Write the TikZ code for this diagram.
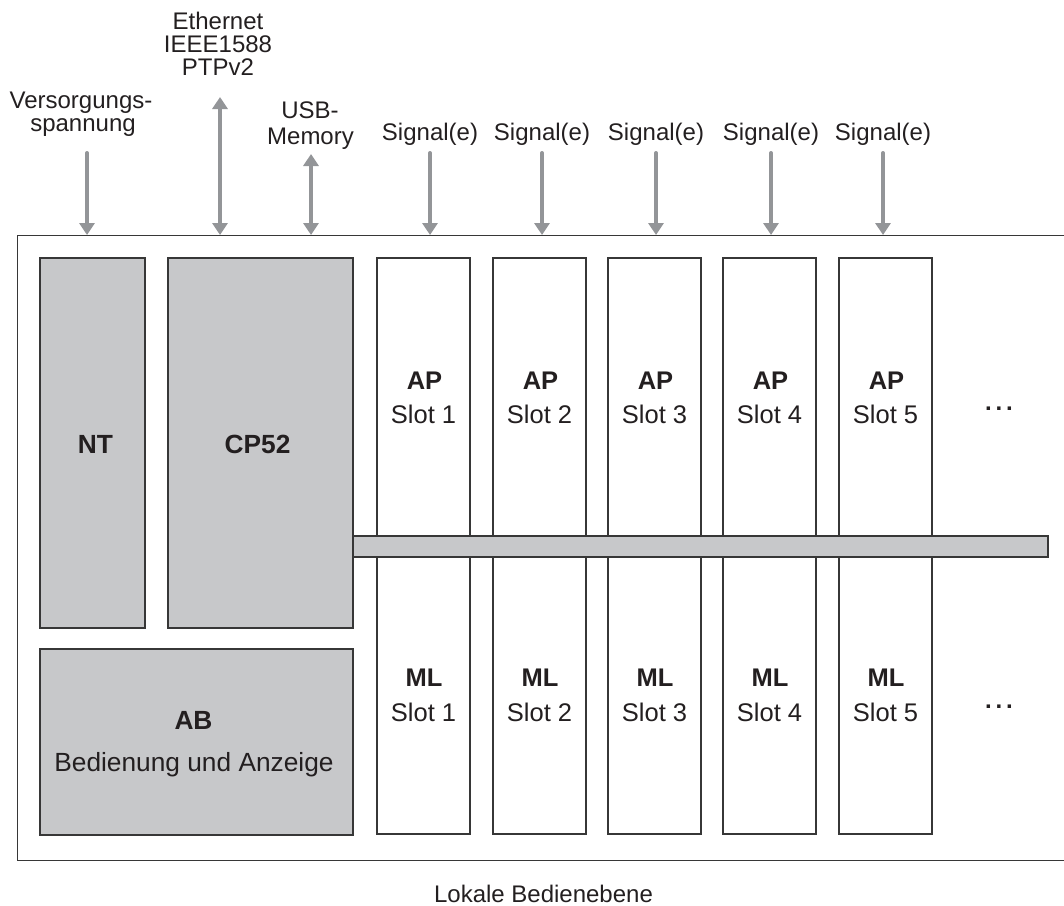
\documentclass[tikz,border=0pt]{standalone}
\usepackage{fontspec}
\setmainfont{Liberation Sans}
\usetikzlibrary{arrows.meta}
\definecolor{boxgray}{RGB}{199,200,202}
\definecolor{arrgray}{RGB}{147,149,152}
\definecolor{linegray}{RGB}{55,55,55}
\definecolor{txt}{RGB}{35,31,32}
\tikzset{
  grayblock/.style={draw=linegray, fill=boxgray, line width=1.1pt, inner sep=0pt, outer sep=0pt, anchor=north west},
  slotbox/.style={draw=linegray, fill=white, line width=1.1pt, inner sep=0pt, outer sep=0pt, anchor=north west, minimum width=93pt},
  framestyle/.style={draw=linegray, line width=1pt},
  lbl/.style={text=txt, inner sep=0pt, align=center, anchor=base, font=\fontsize{24}{28}\selectfont},
  boxlbl/.style={lbl, font=\fontsize{25.5}{30}\selectfont},
  blocklbl/.style={lbl, font=\fontsize{26.3}{30}\selectfont},
  sig/.style={draw=arrgray, line width=4pt, line cap=round, -{Triangle[width=15pt,length=12pt]}},
  bisig/.style={draw=arrgray, line width=4pt, {Triangle[width=15pt,length=12pt]}-{Triangle[width=15pt,length=12pt]}},
}
\begin{document}
\begin{tikzpicture}[x=1pt,y=-1pt]
\useasboundingbox (0,0) rectangle (1064,905);
% frame (right side lies outside the picture)
\draw[framestyle] (1064,235) -- (17,235) -- (17,860) -- (1064,860);
\coordinate (ftop) at (17,235);
% blocks
\node[grayblock, minimum width=105pt, minimum height=370pt] (nt) at (40,258) {};
\node[grayblock, minimum width=185pt, minimum height=370pt] (cp) at (168,258) {};
\node[grayblock, minimum width=313pt, minimum height=186pt] (ab) at (40,649) {};
\node[blocklbl] (ntl) at (95.5,453) {\bfseries NT};
\node[blocklbl] (cpl) at (257.5,453) {\bfseries CP52};
\node[blocklbl] (abl) at (193.5,729.3) {\bfseries AB};
\node[blocklbl] (abl2) at (194,771.7) {Bedienung und Anzeige};
% slots
\foreach \i/\x/\ax in {1/377/430,2/493/542,3/608/656,4/723/771,5/839/883}{
  \node[slotbox, minimum height=278pt] (ap\i) at (\x,258) {};
  \node[slotbox, minimum height=277pt] (ml\i) at (\x,557) {};
  \node[boxlbl] (apt\i) at (\x+47.5,389.3) {\bfseries AP};
  \node[boxlbl] (aps\i) at (\x+46.5,423.3) {Slot \i};
  \node[boxlbl] (mlt\i) at (\x+47,686.7) {\bfseries ML};
  \node[boxlbl] (mls\i) at (\x+46.5,721.7) {Slot \i};
  \node[lbl] (sg\i) at (\ax,140) {Signal(e)};
  \coordinate (sgs\i) at (\ax,153);
  \draw[sig] (sgs\i) -- (sgs\i |- ftop);
}
% bus
\node[grayblock, minimum width=695pt, minimum height=21pt, line width=1.4pt] (bus) at (353,536) {};
% dots
\node[text=txt, inner sep=0pt, font=\fontsize{24}{28}\selectfont\bfseries] (dots1) at (999,409) {.\kern3.8pt.\kern3.8pt.};
\node[text=txt, inner sep=0pt, font=\fontsize{24}{28}\selectfont\bfseries] (dots2) at (999,707) {.\kern3.8pt.\kern3.8pt.};
% top labels
\node[lbl] (vers1) at (81,108) {Versorgungs-};
\node[lbl] (vers2) at (83,131) {spannung};
\node[lbl] (eth1) at (218,29.3) {Ethernet};
\node[lbl] (eth2) at (218,52.5) {IEEE1588};
\node[lbl] (eth3) at (218,75) {PTPv2};
\node[lbl] (usb1) at (310,118) {USB-};
\node[lbl] (usb2) at (310.5,144) {Memory};
\coordinate (vs) at (87,153);
\coordinate (es) at (220,97);
\coordinate (us) at (311,154);
\draw[sig] (vs) -- (vs |- ftop);
\draw[bisig] (es) -- (es |- ftop);
\draw[bisig] (us) -- (us |- ftop);
% bottom label
\node[lbl] (lok) at (543.5,902) {Lokale Bedienebene};
\end{tikzpicture}
\end{document}
